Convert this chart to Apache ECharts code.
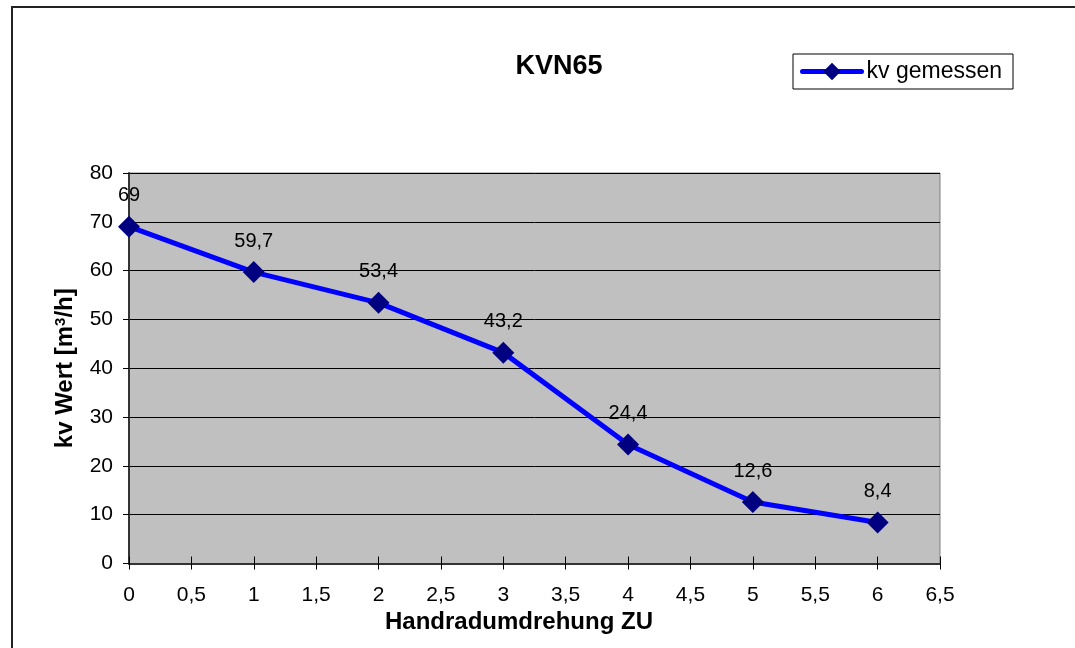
<!DOCTYPE html>
<html>
<head>
<meta charset="utf-8">
<script src="https://cdn.jsdelivr.net/npm/echarts@6/dist/echarts.min.js"></script>
<style>
  html, body { margin: 0; padding: 0; background: #fff; }
  #chart { width: 1075px; height: 648px; }
</style>
</head>
<body>
<div id="chart"></div>
<script>
// Handradumdrehung ZU -> kv gemessen
var turns = [0, 1, 2, 3, 4, 5, 6];
var kvValues = [69, 59.7, 53.4, 43.2, 24.4, 12.6, 8.4];

var FONT = 'Liberation Sans';
var comma = function (v) { return String(v).replace('.', ','); };

var chart = echarts.init(document.getElementById('chart'));
var points = turns.map(function (t, i) { return [t, kvValues[i]]; });

var xBase = {
  type: 'value', min: 0, max: 6.5, interval: 0.5,
  splitLine: { show: false }
};

chart.setOption({
  animation: false,
  textStyle: { fontFamily: FONT },
  title: {
    text: 'KVN65', left: 554, top: 48, textAlign: 'center',
    textStyle: { fontFamily: FONT, fontSize: 27, fontWeight: 'bold', color: '#000' }
  },
  legend: {
    left: 793, top: 54,
    padding: [6, 11, 6, 7],
    borderColor: '#000', borderWidth: 1,
    itemWidth: 59, itemHeight: 22, itemGap: 5,
    lineStyle: { width: 5, cap: 'round' },
    textStyle: { fontFamily: FONT, fontSize: 23, color: '#000' },
    data: ['kv gemessen']
  },
  graphic: [{
    type: 'rect', silent: true,
    shape: { x: 12, y: 7, width: 1200, height: 800 },
    style: { fill: 'none', stroke: '#222', lineWidth: 2 }
  }],
  grid: {
    left: 129, right: 135, top: 173, bottom: 84.5,
    show: true, backgroundColor: '#c0c0c0', borderColor: '#808080', borderWidth: 1
  },
  xAxis: [
    Object.assign({}, xBase, {
      name: 'Handradumdrehung ZU', nameLocation: 'middle', nameGap: 44,
      nameTextStyle: {
        fontFamily: FONT, fontSize: 24, fontWeight: 'bold', color: '#000',
        padding: [0, 31, 0, 0]
      },
      axisLine: { lineStyle: { color: '#333', width: 2 } },
      axisTick: { inside: true, length: 7, lineStyle: { color: '#000' } },
      axisLabel: { margin: 21, fontSize: 21, color: '#000', formatter: comma }
    }),
    Object.assign({}, xBase, {
      position: 'bottom',
      axisLine: { show: false },
      axisTick: { inside: false, length: 6, lineStyle: { color: '#000' } },
      axisLabel: { show: false }
    })
  ],
  yAxis: {
    type: 'value', min: 0, max: 80, interval: 10,
    name: '{a|kv Wert [m}{s|3}{a|/h]}', nameLocation: 'middle', nameGap: 52,
    nameTextStyle: {
      fontFamily: FONT, fontSize: 24, fontWeight: 'bold', color: '#000',
      rich: {
        a: { fontFamily: FONT, fontSize: 24, fontWeight: 'bold', color: '#000' },
        s: { fontFamily: FONT, fontSize: 15, fontWeight: 'bold', color: '#000', verticalAlign: 'top' }
      }
    },
    axisLine: { show: true, lineStyle: { color: '#333', width: 2 } },
    axisTick: { show: true, length: 6, lineStyle: { color: '#000' } },
    axisLabel: { margin: 16, fontSize: 21, color: '#000' },
    splitLine: { lineStyle: { color: '#000', width: 1 } }
  },
  series: [{
    name: 'kv gemessen',
    type: 'line',
    data: points,
    symbol: 'diamond',
    symbolSize: 22,
    lineStyle: { color: '#0000ff', width: 5 },
    itemStyle: { color: '#000080' },
    label: {
      show: true, position: 'top', distance: 10,
      fontFamily: FONT, fontSize: 20, color: '#000',
      formatter: function (p) { return comma(p.value[1]); }
    }
  }]
});
</script>
</body>
</html>
